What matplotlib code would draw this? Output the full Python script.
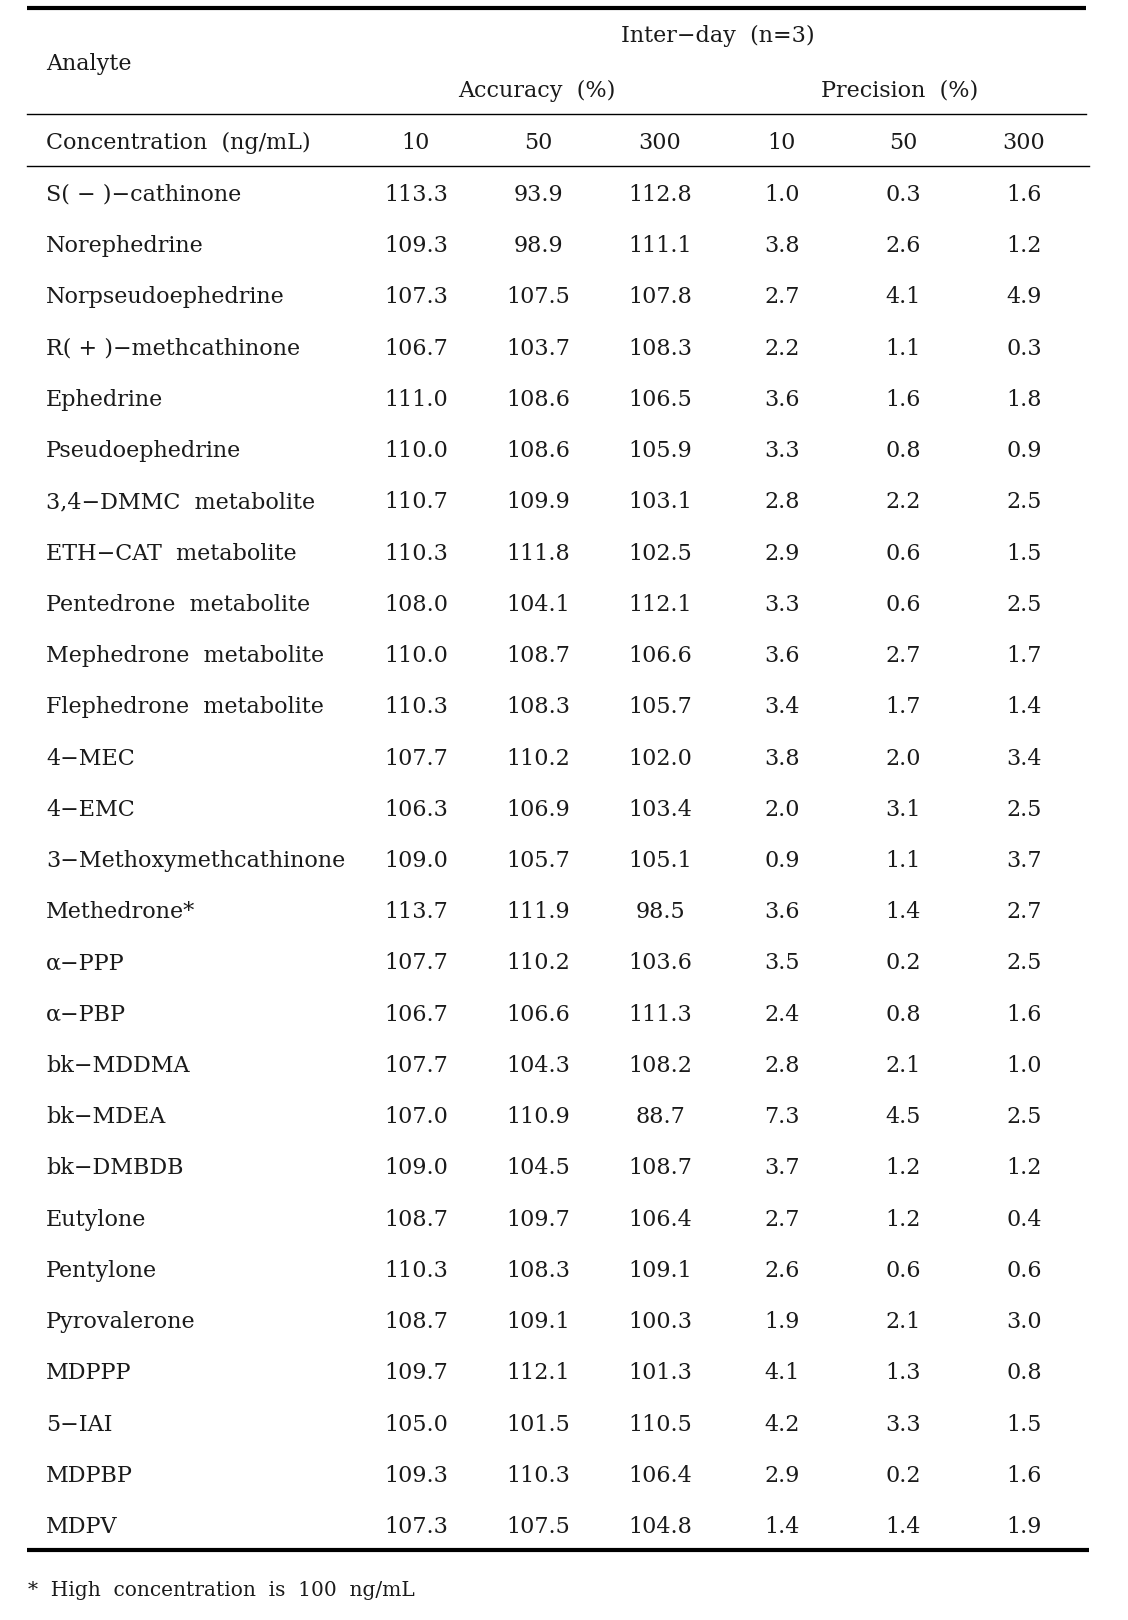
import matplotlib.pyplot as plt
import numpy as np

analytes = [
    "S( − )−cathinone", "Norephedrine", "Norpseudoephedrine", "R( + )−methcathinone",
    "Ephedrine", "Pseudoephedrine", "3,4−DMMC  metabolite", "ETH−CAT  metabolite",
    "Pentedrone  metabolite", "Mephedrone  metabolite", "Flephedrone  metabolite",
    "4−MEC", "4−EMC", "3−Methoxymethcathinone", "Methedrone*", "α−PPP", "α−PBP",
    "bk−MDDMA", "bk−MDEA", "bk−DMBDB", "Eutylone", "Pentylone", "Pyrovalerone",
    "MDPPP", "5−IAI", "MDPBP", "MDPV",
]
acc_10 = [113.3, 109.3, 107.3, 106.7, 111.0, 110.0, 110.7, 110.3, 108.0, 110.0, 110.3,
          107.7, 106.3, 109.0, 113.7, 107.7, 106.7, 107.7, 107.0, 109.0, 108.7, 110.3,
          108.7, 109.7, 105.0, 109.3, 107.3]
acc_50 = [93.9, 98.9, 107.5, 103.7, 108.6, 108.6, 109.9, 111.8, 104.1, 108.7, 108.3,
          110.2, 106.9, 105.7, 111.9, 110.2, 106.6, 104.3, 110.9, 104.5, 109.7, 108.3,
          109.1, 112.1, 101.5, 110.3, 107.5]
acc_300 = [112.8, 111.1, 107.8, 108.3, 106.5, 105.9, 103.1, 102.5, 112.1, 106.6, 105.7,
           102.0, 103.4, 105.1, 98.5, 103.6, 111.3, 108.2, 88.7, 108.7, 106.4, 109.1,
           100.3, 101.3, 110.5, 106.4, 104.8]
prec_10 = [1.0, 3.8, 2.7, 2.2, 3.6, 3.3, 2.8, 2.9, 3.3, 3.6, 3.4, 3.8, 2.0, 0.9, 3.6,
           3.5, 2.4, 2.8, 7.3, 3.7, 2.7, 2.6, 1.9, 4.1, 4.2, 2.9, 1.4]
prec_50 = [0.3, 2.6, 4.1, 1.1, 1.6, 0.8, 2.2, 0.6, 0.6, 2.7, 1.7, 2.0, 3.1, 1.1, 1.4,
           0.2, 0.8, 2.1, 4.5, 1.2, 1.2, 0.6, 2.1, 1.3, 3.3, 0.2, 1.4]
prec_300 = [1.6, 1.2, 4.9, 0.3, 1.8, 0.9, 2.5, 1.5, 2.5, 1.7, 1.4, 3.4, 2.5, 3.7, 2.7,
            2.5, 1.6, 1.0, 2.5, 1.2, 0.4, 0.6, 3.0, 0.8, 1.5, 1.6, 1.9]
conc_labels = ["10", "50", "300", "10", "50", "300"]

plt.rcParams["font.family"] = ["DejaVu Serif"]
fs = 16
color = "#1a1a1a"

fig = plt.figure(figsize=(11.28, 16.2), dpi=100)
ax = fig.add_axes([0, 0, 1, 1])
ax.set_xlim(0, 1128)
ax.set_ylim(1620, 0)
ax.axis("off")

col_x = [416, 538, 660, 782, 903, 1024]
left_x = 46

# rules
ax.plot([27, 1086], [8, 8], color="black", lw=3.0, solid_capstyle="butt")
ax.plot([27, 1086], [114, 114], color="black", lw=1.0)
ax.plot([27, 1089], [166, 166], color="black", lw=1.0)
ax.plot([27, 1089], [1550, 1550], color="black", lw=3.0, solid_capstyle="butt")

# headers
ax.text(left_x, 64, "Analyte", fontsize=fs, va="center", ha="left", color=color)
ax.text(718, 36, "Inter−day  (n=3)", fontsize=fs, va="center", ha="center", color=color)
ax.text(537, 91, "Accuracy  (%)", fontsize=fs, va="center", ha="center", color=color)
ax.text(900, 91, "Precision  (%)", fontsize=fs, va="center", ha="center", color=color)
ax.text(left_x, 143, "Concentration  (ng/mL)", fontsize=fs, va="center", ha="left", color=color)
for x, lab in zip(col_x, conc_labels):
    ax.text(x, 143, lab, fontsize=fs, va="center", ha="center", color=color)

# body
row_y = np.linspace(195, 1527, len(analytes))
cols = [acc_10, acc_50, acc_300, prec_10, prec_50, prec_300]
for i, name in enumerate(analytes):
    y = row_y[i]
    ax.text(left_x, y, name, fontsize=fs, va="center", ha="left", color=color)
    for x, vals in zip(col_x, cols):
        ax.text(x, y, f"{vals[i]:.1f}", fontsize=fs, va="center", ha="center", color=color)

ax.text(28, 1590, "*  High  concentration  is  100  ng/mL", fontsize=fs - 1.5,
        va="center", ha="left", color=color)

fig.savefig("out.png", dpi=100)
plt.close(fig)
